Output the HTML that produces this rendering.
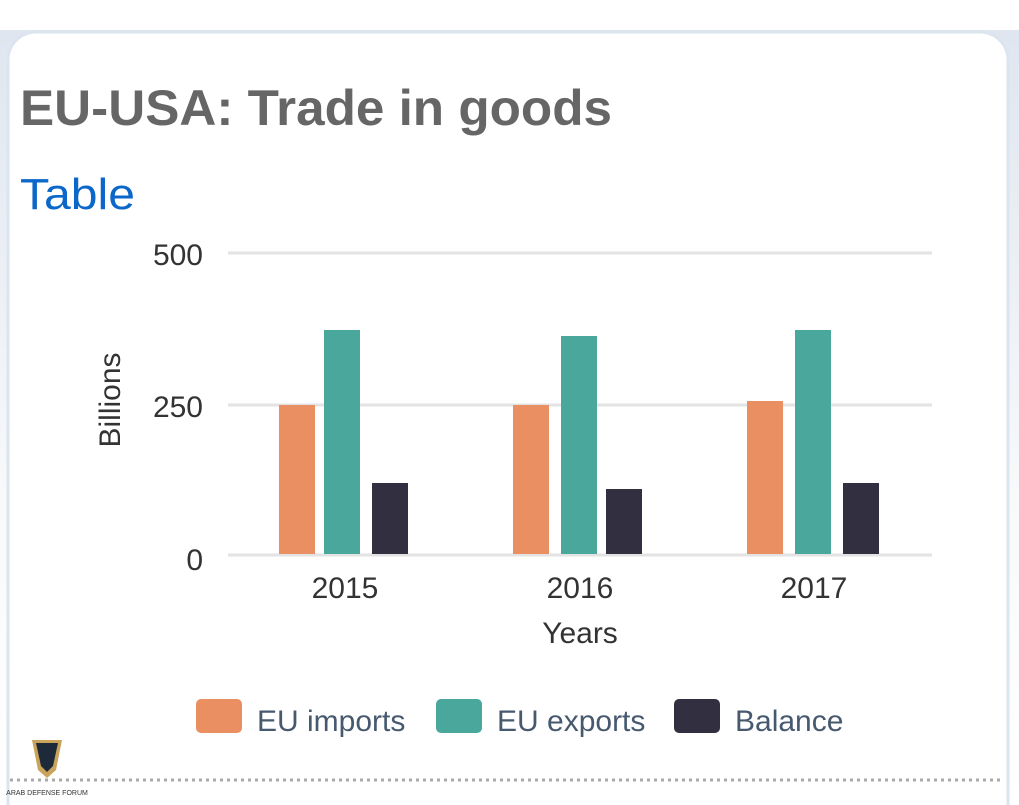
<!DOCTYPE html>
<html><head><style>
html,body{margin:0;padding:0;width:1019px;height:805px;overflow:hidden;background:#fff}
</style></head><body>
<svg width="1019" height="805" xmlns="http://www.w3.org/2000/svg" font-family="Liberation Sans, sans-serif">
<defs><linearGradient id="bg" x1="0" y1="0" x2="0" y2="1"><stop offset="0" stop-color="#dfe6ef"/><stop offset="0.6" stop-color="#f7f9fb"/><stop offset="1" stop-color="#fff"/></linearGradient></defs>
<rect width="1019" height="805" fill="#fff"/>
<rect x="0" y="30" width="1019" height="775" fill="url(#bg)"/>
<rect x="8" y="32" width="1000" height="800" rx="28" fill="#fff" stroke="#dbe4ef" stroke-width="3"/>
<text x="20" y="125" font-size="50" font-weight="bold" fill="#666" textLength="592" lengthAdjust="spacingAndGlyphs">EU-USA: Trade in goods</text>
<text x="20" y="209" font-size="44" fill="#0b67c9" textLength="115" lengthAdjust="spacingAndGlyphs">Table</text>
<g stroke="#e3e3e3" stroke-width="3"><line x1="228" y1="253" x2="932" y2="253"/><line x1="228" y1="405" x2="932" y2="405"/><line x1="228" y1="555" x2="932" y2="555"/></g>
<g font-size="30" fill="#333" text-anchor="end"><text x="203" y="265">500</text><text x="203" y="417">250</text><text x="203" y="570">0</text></g>
<text transform="translate(120,400) rotate(-90)" font-size="30" fill="#333" text-anchor="middle">Billions</text>
<g fill="#e98f62"><rect x="279" y="405" width="36" height="149"/><rect x="513" y="405" width="36" height="149"/><rect x="747" y="401" width="36" height="153"/></g>
<g fill="#49a79b"><rect x="324" y="330" width="36" height="224"/><rect x="561" y="336" width="36" height="218"/><rect x="795" y="330" width="36" height="224"/></g>
<g fill="#312f40"><rect x="372" y="483" width="36" height="71"/><rect x="606" y="489" width="36" height="65"/><rect x="843" y="483" width="36" height="71"/></g>
<g font-size="30" fill="#333" text-anchor="middle"><text x="345" y="598">2015</text><text x="580" y="598">2016</text><text x="814" y="598">2017</text><text x="580" y="643">Years</text></g>
<rect x="196" y="699" width="46" height="34" rx="5" fill="#e98f62"/>
<rect x="436" y="699" width="46" height="34" rx="5" fill="#49a79b"/>
<rect x="674" y="699" width="46" height="34" rx="5" fill="#312f40"/>
<g font-size="30" fill="#46596f"><text x="257" y="731">EU imports</text><text x="497" y="731">EU exports</text><text x="735" y="731">Balance</text></g>
<line x1="10" y1="780" x2="1000" y2="780" stroke="#aaa" stroke-width="3" stroke-dasharray="3 4"/>
<path d="M32 740 L62 740 L56 770 L47 778 L38 770 Z" fill="#c9a45a"/>
<path d="M36 743 L58 743 L53 766 L47 772 L41 766 Z" fill="#1e2a3a"/>
<text x="47" y="795" font-size="7" fill="#333" text-anchor="middle">ARAB DEFENSE FORUM</text>
</svg>
</body></html>
